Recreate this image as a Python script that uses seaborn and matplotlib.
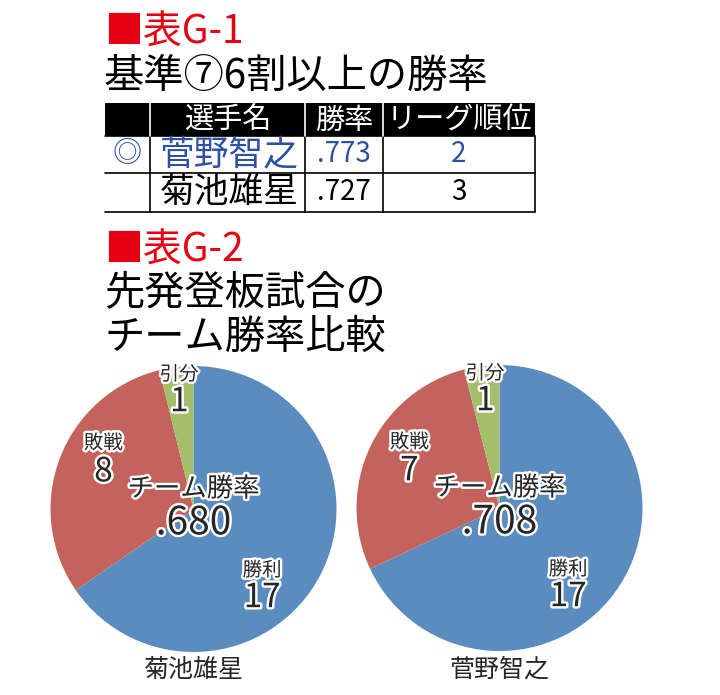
import matplotlib
matplotlib.use("Agg")
import matplotlib.pyplot as plt
import matplotlib.patheffects as pe
import seaborn as sns

sns.set_style("white")
plt.rcParams['font.family'] = ['Noto Sans CJK JP', 'DejaVu Sans']

# table data
table_header = ["", "選手名", "勝率", "リーグ順位"]
table_marks = ["◎", ""]
table_names = ["菅野智之", "菊池雄星"]
table_rates = [".773", ".727"]
table_ranks = ["2", "3"]

# pie data
pie_players = ["菊池雄星", "菅野智之"]
pie_labels = ["勝利", "敗戦", "引分"]
pie_values = [[17, 8, 1], [17, 7, 1]]
team_rates = [".680", ".708"]

RED = "#e60012"
BLUE_TXT = "#2f4fa3"
pie_colors = ["#5b8cc0", "#c4635c", "#a3bf6c"]

W, H = 720, 695
fig = plt.figure(figsize=(W / 100, H / 100), dpi=100)


def fy(y):
    return 1 - y / H


# titles
fig.text(104 / W, fy(44), "■表G-1", color=RED, fontsize=28, va="baseline", ha="left")
fig.text(104 / W, fy(88), "基準⑦6割以上の勝率", color="black", fontsize=29, va="baseline", ha="left")
fig.text(104 / W, fy(262), "■表G-2", color=RED, fontsize=28, va="baseline", ha="left")
fig.text(104 / W, fy(305), "先発登板試合の", color="black", fontsize=29, va="baseline", ha="left")
fig.text(104 / W, fy(349), "チーム勝率比較", color="black", fontsize=29, va="baseline", ha="left")

# table
tx0, tx1, ty0, ty1 = 105, 535, 103, 212
tax = fig.add_axes([tx0 / W, fy(ty1), (tx1 - tx0) / W, (ty1 - ty0) / H])
tax.set_xlim(tx0, tx1)
tax.set_ylim(ty1, ty0)
tax.axis("off")
col_edges = [105, 150, 305, 383, 535]
row_edges = [103, 136, 173, 212]
tax.axhspan(row_edges[0], row_edges[1], color="black", lw=0)
for y in row_edges[1:]:
    tax.plot([tx0, tx1], [y, y], color="black", lw=1.2, clip_on=False)
for x in col_edges[1:]:
    tax.plot([x, x], [row_edges[1], row_edges[-1]], color="black", lw=1.2, clip_on=False)
for x in col_edges[1:-1]:
    tax.plot([x, x], [row_edges[0], row_edges[1]], color="white", lw=1.2)

centers = [(col_edges[i] + col_edges[i + 1]) / 2 for i in range(4)]
for i, h in enumerate(table_header):
    tax.text(centers[i], (row_edges[0] + row_edges[1]) / 2 + 1, h, color="white",
             fontsize=21, ha="center", va="center")
for r in range(2):
    yc = (row_edges[r + 1] + row_edges[r + 2]) / 2
    c = BLUE_TXT if r == 0 else "black"
    tax.text(centers[0], yc, table_marks[r], color=c, fontsize=21, ha="center", va="center")
    tax.text(centers[1] + 2, yc, table_names[r], color=c, fontsize=25, ha="center", va="center")
    tax.text(centers[2], yc, table_rates[r], color=c, fontsize=20, ha="center", va="center")
    tax.text(centers[3], yc, table_ranks[r], color=c, fontsize=20, ha="center", va="center")

# pies
stroke = [pe.withStroke(linewidth=3.5, foreground="white")]
pie_centers = [(193.5, 509), (499.5, 508)]
R = 143
label_pos = {"勝利": (0.48, -0.43, -0.62), "敗戦": (-0.63, 0.46, 0.26), "引分": (-0.10, 0.94, 0.75)}
for k in range(2):
    cx, cy = pie_centers[k]
    ax = fig.add_axes([(cx - R) / W, fy(cy + R), 2 * R / W, 2 * R / H])
    ax.pie(pie_values[k], colors=pie_colors, startangle=90, counterclock=False,
           radius=1, wedgeprops=dict(linewidth=0))
    ax.set_xlim(-1, 1)
    ax.set_ylim(-1, 1)
    ax.set_aspect("auto")
    ax.axis("off")
    for lab, val in zip(pie_labels, pie_values[k]):
        lx, ly1, ly2 = label_pos[lab]
        ax.text(lx, ly1, lab, fontsize=14, ha="center", va="center", path_effects=stroke, zorder=5)
        ax.text(lx, ly2, str(val), fontsize=24, ha="center", va="center", path_effects=stroke, zorder=5)
    ax.text(0, 0.14, "チーム勝率", fontsize=19, ha="center", va="center", path_effects=stroke, zorder=5)
    ax.text(0, -0.10, team_rates[k], fontsize=28, ha="center", va="center", path_effects=stroke, zorder=5)
    fig.text(cx / W, fy(670), pie_players[k], fontsize=18, ha="center", va="center")

fig.savefig("out.png", dpi=100)
